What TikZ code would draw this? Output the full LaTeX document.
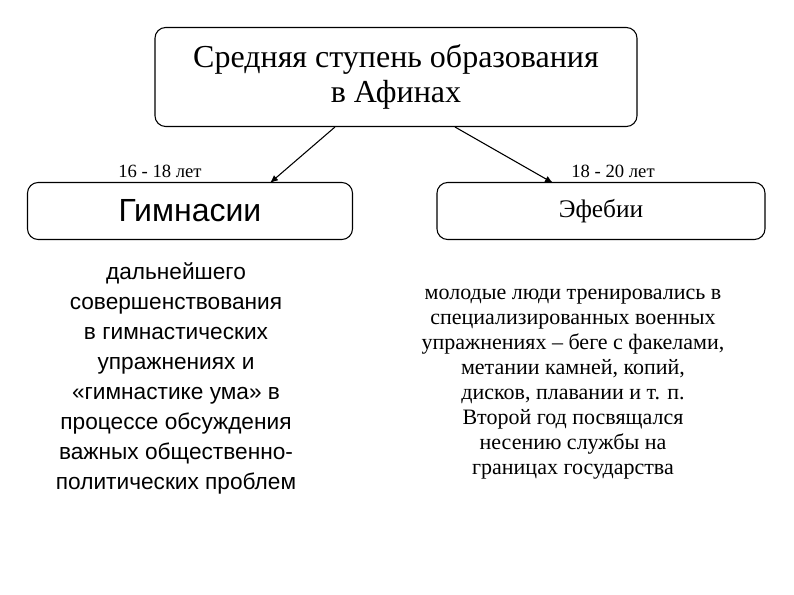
\documentclass[tikz,border=0pt]{standalone}
\usetikzlibrary{arrows.meta}
\usepackage{fontspec}
\setmainfont{Liberation Serif}
\newfontfamily\arialf{Liberation Sans}
\begin{document}
\begin{tikzpicture}[x=0.75pt,y=-0.75pt,
 box/.style={draw,rounded corners=8pt,line width=0.8pt},
 arr/.style={-{Latex[length=6pt,width=5pt]},line width=0.8pt}]
\useasboundingbox (0,0) rectangle (794,595);
\node[box,minimum width=482*0.75pt,minimum height=99*0.75pt,align=center,font=\fontsize{24}{26}\selectfont] (top) at (396,77) {Средняя ступень образования\\в Афинах};
\node[box,minimum width=325*0.75pt,minimum height=57*0.75pt,font=\arialf\fontsize{24}{26}\selectfont] (g) at (190,211) {Гимнасии};
\node[box,minimum width=328*0.75pt,minimum height=57*0.75pt,font=\fontsize{19}{22}\selectfont] (e) at (601,211) {Эфебии};
\coordinate (a1) at (335,127); \coordinate (a2) at (455,127);
\coordinate (b1) at (270,183); \coordinate (b2) at (553,183);
\draw[arr] (a1) -- (b1);
\draw[arr] (a2) -- (b2);
\node[font=\fontsize{14}{16}\selectfont] (l1) at (160,171) {16 - 18 лет};
\node[font=\fontsize{14}{16}\selectfont] (l2) at (613,171) {18 - 20 лет};
\node[align=center,font=\arialf\fontsize{17}{22.5}\selectfont] (gt) at (176,378) {дальнейшего\\совершенствования\\в гимнастических\\упражнениях и\\«гимнастике ума» в\\процессе обсуждения\\важных общественно-\\политических проблем};
\node[align=center,font=\fontsize{16.5}{18.8}\selectfont] (et) at (573,384) {молодые люди тренировались в\\специализированных военных\\упражнениях – беге с факелами,\\метании камней, копий,\\дисков, плавании и т. п.\\Второй год посвящался\\несению службы на\\границах государства};
\end{tikzpicture}
\end{document}
